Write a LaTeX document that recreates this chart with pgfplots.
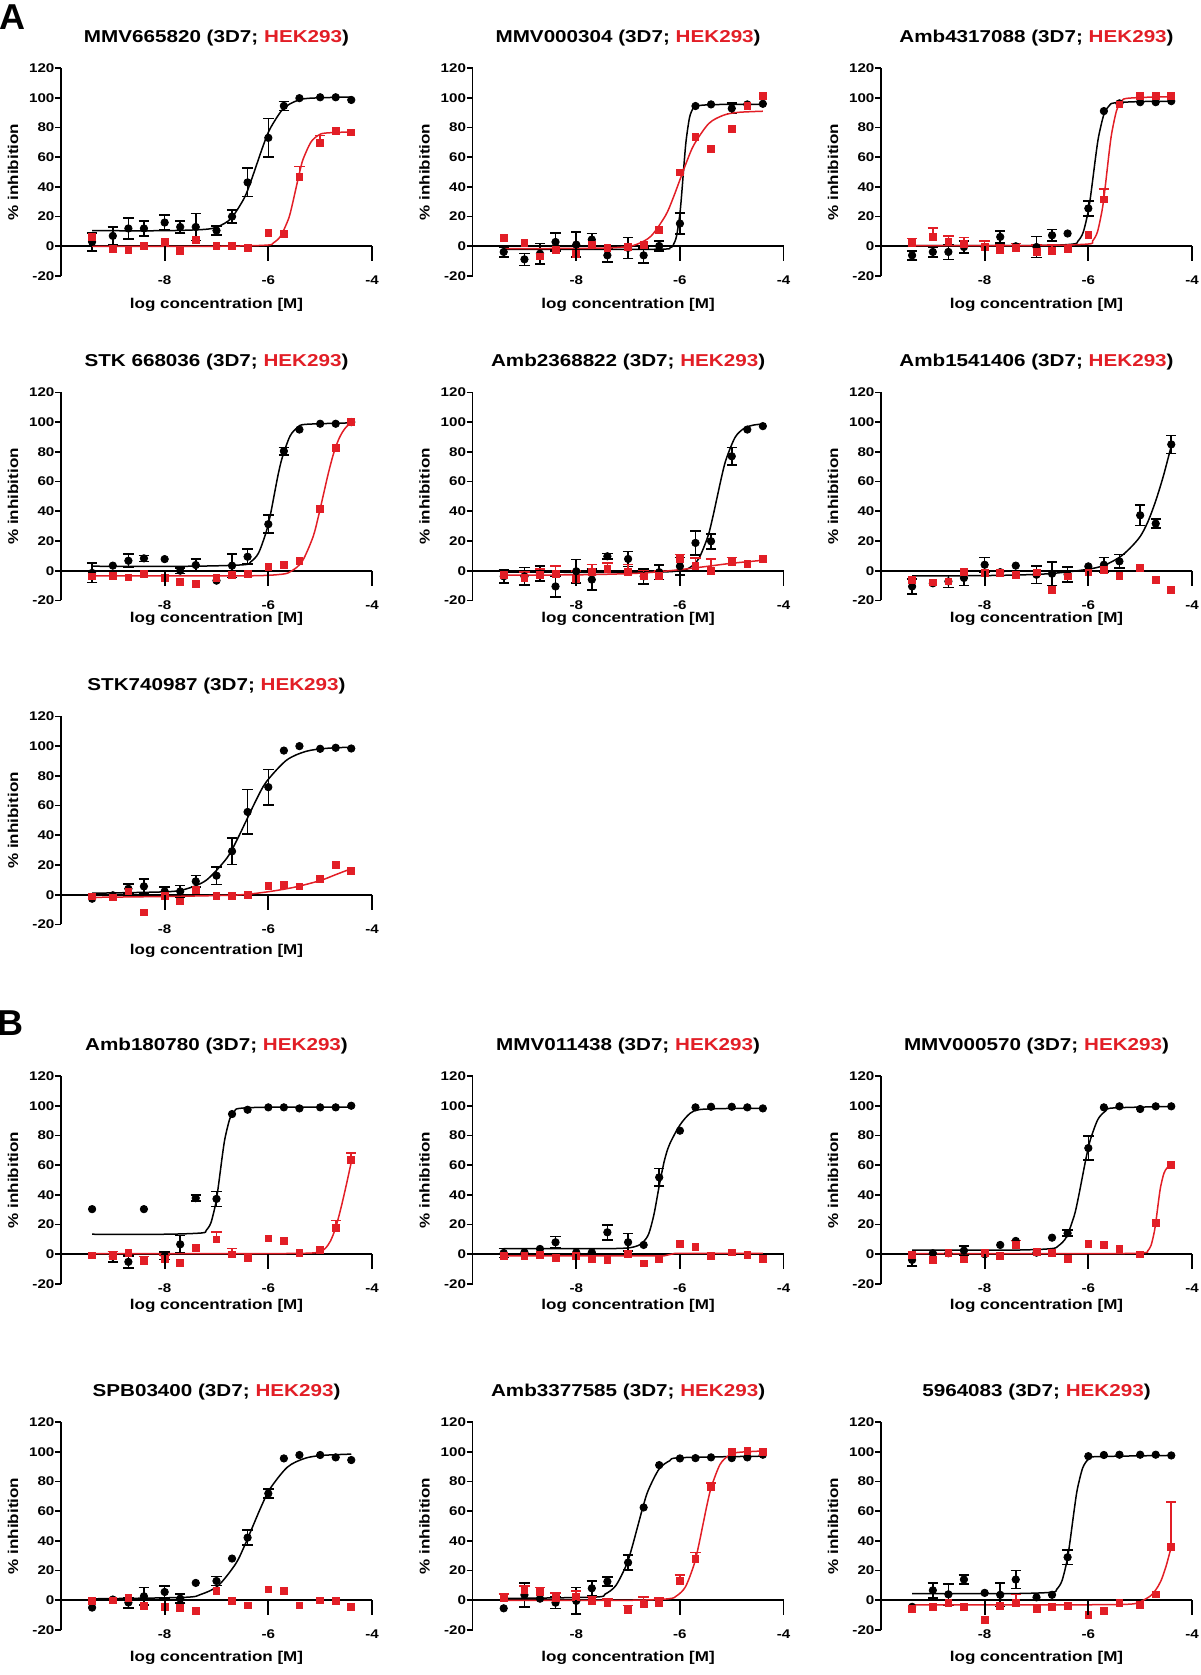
\documentclass[border=0pt]{standalone}
\usepackage{fontspec}
\setmainfont{Liberation Sans}[FakeStretch=1.2]
\newfontfamily\letterfont{Liberation Sans}
\usepackage{pgfplots}
\pgfplotsset{compat=1.18}
\definecolor{hek}{RGB}{226,30,38}

\pgfplotsset{
  dr/.style={
    width=155.5pt, height=104pt, scale only axis, anchor=north west,
    xmin=-10, xmax=-4, ymin=-20, ymax=120,
    axis y line=left, axis x line=middle,
    axis line style={-, line width=0.85pt},
    xtick={-8,-6,-4}, ytick={-20,0,20,40,60,80,100,120},
    tick align=outside, major tick length=3pt,
    tick style={line width=0.85pt, black},
    hide obscured x ticks=false, hide obscured y ticks=false,
    ticklabel style={font=\fontsize{6.3}{7}\selectfont\bfseries},
    /pgf/number format/assume math mode=true,
    xticklabel style={anchor=center, yshift=-14pt},
    yticklabel style={xshift=3.2pt},
    label style={font=\fontsize{7.1}{8.5}\selectfont\bfseries},
    ylabel={\% inhibition},
    ylabel style={at={(axis description cs:-0.1543,0.5)}, anchor=center},
    xlabel={log concentration [M]},
    every axis title shift=0pt,
    title style={at={(0.5,1.124)}, anchor=base, font=\fontsize{8.6}{10}\selectfont\bfseries},
    clip=false,
    after end axis/.code={
      \draw[line width=0.85pt] (axis cs:-8,0) -- (axis cs:-8,-10)
        (axis cs:-6,0) -- (axis cs:-6,-10) (axis cs:-4,0) -- (axis cs:-4,-10);
    },
  },
  xlab/.style={xlabel style={at={(axis description cs:0.5,#1)}, anchor=base}},
  bc/.style={black, line width=0.75pt, smooth, no markers},
  rc/.style={hek, line width=0.75pt, smooth, no markers},
  bm/.style={black, only marks, mark=*, mark size=1.85pt},
  rm/.style={hek, only marks, mark=square*, mark size=1.7pt},
  be/.style={bm, error bars/y dir=both, error bars/y explicit,
    error bars/error bar style={line width=0.8pt, black},
    error bars/error mark options={rotate=90, line width=0.8pt, mark size=2.6pt, black}},
  re/.style={rm, error bars/y dir=plus, error bars/y explicit,
    error bars/error bar style={line width=0.8pt, hek},
    error bars/error mark options={rotate=90, line width=0.8pt, mark size=2.6pt, hek}},
}

\begin{document}
\begin{tikzpicture}
\useasboundingbox (0,0) rectangle (600pt,-837.5pt);
\node[font=\letterfont\fontsize{18}{20}\selectfont\bfseries] at (6.2pt,-8.5pt) {A};
\node[font=\letterfont\fontsize{18}{20}\selectfont\bfseries] at (5.2pt,-511.5pt) {B};

% ---------------- A, row 1
\begin{axis}[dr, at={(30.5pt,-34pt)}, xlab=-0.157, title={MMV665820 (3D7; \textcolor{hek}{HEK293})}]
\addplot[bc] coordinates {(-9.4,10.5) (-8,10.5) (-7.22,11.4) (-6.97,13.3) (-6.72,18.7) (-6.47,32.1) (-6.345,42.9) (-6.22,55.5) (-6.095,68.1) (-5.97,78.9) (-5.72,92.3) (-5.47,97.7) (-5.22,99.6) (-4.4,100.5)};
\addplot[be] coordinates {(-9.4,3) +- (0,6) (-9.0,7) +- (0,6) (-8.7,12) +- (0,7) (-8.4,12) +- (0,5) (-8.0,16) +- (0,5) (-7.7,13) +- (0,4) (-7.4,13) +- (0,9) (-7.0,10.6) +- (0,3) (-6.7,20) +- (0,4.5) (-6.4,43) +- (0,9.5) (-6.0,73) +- (0,13) (-5.7,94.5) +- (0,3)};
\addplot[bm] coordinates {(-5.4,99.7) (-5.0,100.3) (-4.7,100.3) (-4.4,98.5)};
\addplot[rc] coordinates {(-9.4,0) (-7,0) (-6.04,0.76) (-5.90,2.36) (-5.76,7.0) (-5.61,18.5) (-5.54,27.7) (-5.47,38.5) (-5.40,49.3) (-5.33,58.5) (-5.18,70.0) (-5.04,74.6) (-4.90,76.2) (-4.4,77)};
\addplot[re] coordinates {(-5.4,46.7) +- (0,7) (-5.0,69.7) +- (0,5)};
\addplot[rm] coordinates {(-9.4,6.5) (-9.0,-1.8) (-8.7,-2.5) (-8.4,0) (-8.0,2.9) (-7.7,-2.9) (-7.4,4.3) (-7.0,0) (-6.7,0) (-6.4,-1.1) (-6.0,9) (-5.7,8.3) (-4.7,77.8) (-4.4,76.7)};
\end{axis}

\begin{axis}[dr, at={(236.3pt,-34pt)}, xlab=-0.157, title={MMV000304 (3D7; \textcolor{hek}{HEK293})}]
\addplot[bc] coordinates {(-9.4,-2) (-6.5,-2) (-6.19,-1.03) (-6.1275,1.0) (-6.065,6.86) (-6.0025,21.4) (-5.971,33.1) (-5.94,46.75) (-5.909,60.4) (-5.8775,72.1) (-5.815,86.6) (-5.7525,92.5) (-5.69,94.5) (-5.3,95.4) (-4.4,95.5)};
\addplot[be] coordinates {(-9.4,-3.8) +- (0,3.5) (-9.0,-8.8) +- (0,4) (-8.7,-5) +- (0,7) (-8.4,2.9) +- (0,6) (-8.0,1.1) +- (0,8.5) (-7.7,4.5) +- (0,4) (-7.4,-6.1) +- (0,4.5) (-7.0,-1.1) +- (0,7) (-6.7,-6.1) +- (0,5) (-6.4,0.2) +- (0,3.5) (-6.0,15.3) +- (0,7) (-5.0,92.8) +- (0,3.5)};
\addplot[bm] coordinates {(-5.7,94.4) (-5.4,95.5) (-4.7,95.5) (-4.4,95.9)};
\addplot[rc] coordinates {(-9.4,-1.5) (-7.8,-1.4) (-7.11,-0.58) (-6.83,1.34) (-6.556,6.91) (-6.278,20.7) (-6.139,31.8) (-6.0,44.75) (-5.861,57.7) (-5.722,68.8) (-5.444,82.6) (-5.167,88.1) (-4.889,90.1) (-4.4,90.9)};
\addplot[rm] coordinates {(-9.4,5.6) (-9.0,2.3) (-8.7,-6.8) (-8.4,-2.7) (-8.0,-5) (-7.7,1.1) (-7.4,-1.1) (-7.0,-0.5) (-6.7,1.1) (-6.4,10.8) (-6.0,49.7) (-5.7,73.6) (-5.4,65.7) (-5.0,79.2) (-4.7,94.4) (-4.4,101.1)};
\end{axis}

\begin{axis}[dr, at={(440.5pt,-34pt)}, xlab=-0.157, title={Amb4317088 (3D7; \textcolor{hek}{HEK293})}]
\addplot[bc] coordinates {(-9.4,0.5) (-7,0.5) (-6.3,1.46) (-6.2,3.48) (-6.1,9.32) (-6.0,23.8) (-5.95,35.4) (-5.9,49) (-5.85,62.6) (-5.8,74.2) (-5.7,88.7) (-5.6,94.5) (-5.5,96.5) (-5.0,97.4) (-4.4,97.5)};
\addplot[be] coordinates {(-9.4,-6.1) +- (0,3) (-9.0,-3.8) +- (0,3.5) (-8.7,-3.8) +- (0,5) (-8.4,-0.5) +- (0,4) (-7.7,6.3) +- (0,4) (-7.0,-0.5) +- (0,7) (-6.7,7.4) +- (0,4) (-6.0,25.5) +- (0,5)};
\addplot[bm] coordinates {(-8.0,-0.5) (-7.4,0) (-6.4,8.6) (-5.7,91) (-5.4,96.2) (-5.0,97) (-4.7,97) (-4.4,97.7)};
\addplot[rc] coordinates {(-9.4,0.5) (-7,0.5) (-6.01,1.5) (-5.918,3.6) (-5.825,9.6) (-5.733,24.5) (-5.686,36.5) (-5.64,50.5) (-5.594,64.5) (-5.547,76.5) (-5.455,91.4) (-5.362,97.4) (-5.27,99.5) (-4.8,100.4) (-4.4,100.5)};
\addplot[re] coordinates {(-9.4,2.3) +- (0,3) (-9.0,6.3) +- (0,6) (-8.7,2.9) +- (0,4) (-8.4,1.8) +- (0,4) (-8.0,-0.5) +- (0,4) (-7.7,-2.3) +- (0,3) (-7.4,-1.1) +- (0,3) (-7.0,-3.8) +- (0,5) (-6.7,-3.2) +- (0,4) (-5.7,31.6) +- (0,7)};
\addplot[rm] coordinates {(-6.4,-1.6) (-6.0,7.4) (-5.4,95.5) (-5.0,101) (-4.7,101) (-4.4,101)};
\end{axis}

% ---------------- A, row 2
\begin{axis}[dr, at={(30.5pt,-196.2pt)}, xlab=-0.108, title={STK 668036 (3D7; \textcolor{hek}{HEK293})}]
\addplot[bc] coordinates {(-9.4,3) (-7.5,3) (-6.49,3.96) (-6.34,5.96) (-6.19,11.8) (-6.04,26.2) (-5.96,37.7) (-5.885,51.25) (-5.81,64.8) (-5.73,76.3) (-5.58,90.7) (-5.43,96.5) (-5.28,98.5) (-4.4,99.5)};
\addplot[be] coordinates {(-9.4,-1.5) +- (0,6.5) (-8.7,6.7) +- (0,4.5) (-8.4,8.3) +- (0,2) (-7.7,0) +- (0,2) (-7.4,3.8) +- (0,4) (-6.7,3.4) +- (0,8) (-6.4,9.4) +- (0,5) (-6.0,31.3) +- (0,6) (-5.7,80.5) +- (0,2.5)};
\addplot[bm] coordinates {(-9.0,3.4) (-8.0,7.8) (-7.0,-6.7) (-5.4,95) (-5.0,98.9) (-4.7,98.9) (-4.4,100)};
\addplot[rc] coordinates {(-9.4,-3.5) (-6.5,-3.5) (-5.75,-2.43) (-5.55,-0.17) (-5.345,6.36) (-5.14,22.5) (-5.04,35.6) (-4.94,50.75) (-4.84,65.9) (-4.74,79.0) (-4.64,88.6) (-4.535,95.1) (-4.4,100.1)};
\addplot[rm] coordinates {(-9.4,-3.8) (-9.0,-3.4) (-8.7,-4.5) (-8.4,-2.2) (-8.0,-4.9) (-7.7,-7.8) (-7.4,-8.9) (-7.0,-5) (-6.7,-2.9) (-6.4,-2.2) (-6.0,2.7) (-5.7,3.8) (-5.4,6.7) (-5.0,41.4) (-4.7,82.8) (-4.4,100)};
\end{axis}

\begin{axis}[dr, at={(236.3pt,-196.2pt)}, xlab=-0.108, title={Amb2368822 (3D7; \textcolor{hek}{HEK293})}]
\addplot[bc] coordinates {(-9.4,-1) (-6.6,-1) (-5.99,0) (-5.81,2.07) (-5.637,8.09) (-5.461,23) (-5.373,35) (-5.285,49) (-5.197,63) (-5.109,75) (-4.933,89.9) (-4.757,95.9) (-4.581,98) (-4.4,98.7)};
\addplot[be] coordinates {(-9.4,-3.8) +- (0,4.5) (-9.0,-3.8) +- (0,6) (-8.7,-2) +- (0,5) (-8.4,-10.6) +- (0,7) (-8.0,-0.4) +- (0,8) (-7.7,-6) +- (0,7) (-7.4,9.7) +- (0,2) (-7.0,7.9) +- (0,5) (-6.7,-3.8) +- (0,5) (-6.4,-1) +- (0,5) (-6.0,3) +- (0,6) (-5.7,18.7) +- (0,8) (-5.4,19.8) +- (0,5) (-5.0,77) +- (0,6)};
\addplot[bm] coordinates {(-4.7,95) (-4.4,97.3)};
\addplot[rc] coordinates {(-9.4,-3) (-8,-2.8) (-7,-2) (-6.5,-1) (-6,0.7) (-5.5,2.8) (-5,5) (-4.4,7)};
\addplot[re] coordinates {(-9.0,-5) +- (0,4) (-8.7,-2.7) +- (0,4) (-8.4,-2) +- (0,5) (-8.0,-5.4) +- (0,5) (-7.7,-0.9) +- (0,5) (-7.4,1.3) +- (0,4) (-7.0,-0.9) +- (0,5) (-6.7,-3.8) +- (0,4) (-6.4,-3.4) +- (0,3) (-6.0,7.9) +- (0,3) (-5.7,3.4) +- (0,5) (-5.4,0) +- (0,8) (-5.0,5.8) +- (0,3)};
\addplot[rm] coordinates {(-9.4,-2.7) (-4.7,4.5) (-4.4,7.9)};
\end{axis}

\begin{axis}[dr, at={(440.5pt,-196.2pt)}, xlab=-0.108, title={Amb1541406 (3D7; \textcolor{hek}{HEK293})}]
\addplot[bc] coordinates {(-9.4,-3.5) (-8,-3.3) (-7,-2.5) (-6.5,-1.2) (-6,1) (-5.7,3.5) (-5.4,9) (-5.2,15) (-5,23) (-4.85,33) (-4.7,47) (-4.55,64) (-4.4,84)};
\addplot[be] coordinates {(-9.4,-10.6) +- (0,5) (-8.7,-7.2) +- (0,4) (-8.4,-4.9) +- (0,5) (-8.0,4) +- (0,5) (-7.0,-2.7) +- (0,6) (-6.7,-2) +- (0,8) (-6.4,-2.5) +- (0,5) (-5.7,4) +- (0,5) (-5.4,6.3) +- (0,4.5) (-5.0,37.3) +- (0,7) (-4.7,31.7) +- (0,3) (-4.4,85) +- (0,6)};
\addplot[bm] coordinates {(-9.0,-8.5) (-7.7,-1) (-7.4,3.4) (-6.0,2.9)};
\addplot[rm] coordinates {(-9.4,-6) (-9.0,-7.9) (-8.7,-7.2) (-8.4,-0.7) (-8.0,-1.6) (-7.7,-1.6) (-7.4,-3.1) (-7.0,-1.1) (-6.7,-12.8) (-6.4,-3.8) (-6.0,-1.1) (-5.7,0.7) (-5.4,-3.4) (-5.0,1.8) (-4.7,-6) (-4.4,-12.8)};
\end{axis}

% ---------------- A, row 3
\begin{axis}[dr, at={(30.5pt,-358.2pt)}, xlab=-0.145, title={STK740987 (3D7; \textcolor{hek}{HEK293})}]
\addplot[bc] coordinates {(-9.4,1) (-7.96,1.98) (-7.57,4.02) (-7.19,9.95) (-6.80,24.6) (-6.61,36.5) (-6.42,50.25) (-6.23,64.0) (-6.04,75.9) (-5.65,90.5) (-5.27,96.5) (-4.88,98.5) (-4.4,99.3)};
\addplot[be] coordinates {(-8.7,4) +- (0,3) (-8.4,5.6) +- (0,5) (-8.0,2.2) +- (0,3) (-7.7,2.2) +- (0,4) (-7.4,9) +- (0,4) (-7.0,12.8) +- (0,6) (-6.7,29.2) +- (0,9) (-6.4,55.7) +- (0,15) (-6.0,72.4) +- (0,12)};
\addplot[bm] coordinates {(-9.4,-2.7) (-9.0,-0.4) (-5.7,97) (-5.4,100) (-5.0,98.2) (-4.7,98.9) (-4.4,98.4)};
\addplot[rc] coordinates {(-9.4,-1.8) (-8,-1.2) (-7,-0.6) (-6.5,0) (-6,2) (-5.5,5) (-5,9.5) (-4.7,13.5) (-4.4,17.5)};
\addplot[rm] coordinates {(-9.4,-1.1) (-9.0,-1.8) (-8.7,2.2) (-8.4,-11.9) (-8.0,-0.7) (-7.7,-4.5) (-7.4,3.4) (-7.0,-0.7) (-6.7,-0.7) (-6.4,0) (-6.0,6.1) (-5.7,6.5) (-5.4,5.6) (-5.0,10.6) (-4.7,20.2) (-4.4,16.2)};
\end{axis}

% ---------------- B, row 4
\begin{axis}[dr, at={(30.5pt,-538pt)}, xlab=-0.121, title={Amb180780 (3D7; \textcolor{hek}{HEK293})}]
\addplot[bc] coordinates {(-9.4,13.5) (-8,13.5) (-7.289,14.35) (-7.198,16.1) (-7.107,21.3) (-7.016,34.0) (-6.97,44.3) (-6.925,56.25) (-6.88,68.2) (-6.834,78.5) (-6.743,91.2) (-6.652,96.3) (-6.561,98.2) (-6.0,99) (-4.4,99)};
\addplot[be] coordinates {(-9.0,-1.5) +- (0,3.5) (-8.7,-5.1) +- (0,4) (-8.0,-1.1) +- (0,2.5) (-7.7,6.7) +- (0,6) (-7.4,37.8) +- (0,2) (-7.0,37.3) +- (0,5)};
\addplot[bm] coordinates {(-9.4,30.4) (-8.4,30.4) (-6.7,94.4) (-6.4,97.3) (-6.0,98.9) (-5.7,98.9) (-5.4,98.2) (-5.0,98.9) (-4.7,98.9) (-4.4,100)};
\addplot[rc] coordinates {(-9.4,0.5) (-6,0.5) (-5.2,0.8) (-5.0,1.8) (-4.9,4) (-4.8,9) (-4.7,18) (-4.6,31) (-4.5,46) (-4.4,62)};
\addplot[re] coordinates {(-9.0,-1.1) +- (0,3) (-8.4,-4.4) +- (0,3) (-8.0,-3.3) +- (0,3) (-7.0,10) +- (0,5) (-6.7,0) +- (0,4) (-4.7,17.8) +- (0,5) (-4.4,63.3) +- (0,5)};
\addplot[rm] coordinates {(-9.4,-0.7) (-8.7,1.1) (-7.7,-5.6) (-7.4,4.4) (-6.4,-2.2) (-6.0,10.7) (-5.7,8.9) (-5.4,1.1) (-5.0,2.7)};
\end{axis}

\begin{axis}[dr, at={(236.3pt,-538pt)}, xlab=-0.121, title={MMV011438 (3D7; \textcolor{hek}{HEK293})}]
\addplot[bc] coordinates {(-9.4,3.8) (-7.5,3.8) (-7.0,4.3) (-6.8,6) (-6.7,8.5) (-6.6,14) (-6.5,27) (-6.4,46) (-6.3,63) (-6.2,74) (-6.0,87) (-5.8,95) (-5.6,97.5) (-5.0,98.2) (-4.4,98.2)};
\addplot[be] coordinates {(-9.4,0.9) +- (0,3) (-8.4,8.1) +- (0,4) (-7.4,14.8) +- (0,5) (-7.0,8.1) +- (0,6) (-6.4,51.8) +- (0,6)};
\addplot[bm] coordinates {(-9.0,1.3) (-8.7,3.6) (-8.0,1.3) (-7.7,1.3) (-6.7,6.3) (-6.0,83.2) (-5.7,98.9) (-5.4,99.3) (-5.0,99.3) (-4.7,98.9) (-4.4,98.2)};
\addplot[hek, line width=0.75pt] coordinates {(-9.4,-1) (-6.3,-1) (-6.1,0.6) (-4.4,0.6)};
\addplot[rm] coordinates {(-9.4,-1.3) (-9.0,-1.3) (-8.7,-0.4) (-8.4,-2.5) (-8.0,-0.9) (-7.7,-3.1) (-7.4,-3.6) (-7.0,0.2) (-6.7,-6.1) (-6.4,-3.1) (-6.0,7) (-5.7,4.9) (-5.4,-1.3) (-5.0,1.3) (-4.7,-0.4) (-4.4,-3.1)};
\end{axis}

\begin{axis}[dr, at={(440.5pt,-538pt)}, xlab=-0.121, title={MMV000570 (3D7; \textcolor{hek}{HEK293})}]
\addplot[bc] coordinates {(-9.4,2.8) (-7.5,2.8) (-6.726,3.76) (-6.575,5.77) (-6.423,11.6) (-6.272,26.0) (-6.196,37.6) (-6.12,51.15) (-6.044,64.7) (-5.968,76.3) (-5.817,90.7) (-5.665,96.5) (-5.514,98.5) (-4.4,99.5)};
\addplot[be] coordinates {(-9.4,-3.8) +- (0,4) (-8.4,2.5) +- (0,3) (-6.4,14.2) +- (0,2) (-6.0,71.5) +- (0,8)};
\addplot[bm] coordinates {(-9.0,0.7) (-8.7,0.7) (-8.0,0) (-7.7,6.3) (-7.4,9) (-7.0,1.1) (-6.7,11.2) (-5.7,98.9) (-5.4,99.6) (-5.0,97.8) (-4.7,99.6) (-4.4,99.6)};
\addplot[rc] coordinates {(-9.4,0.5) (-5.5,0.5) (-4.916,1.09) (-4.854,2.33) (-4.791,5.91) (-4.729,14.8) (-4.697,21.9) (-4.666,30.25) (-4.635,38.6) (-4.604,45.7) (-4.541,54.6) (-4.479,58.2) (-4.416,59.4) (-4.4,59.6)};
\addplot[re] coordinates {(-7.4,6.3) +- (0,3)};
\addplot[rm] coordinates {(-9.4,-0.4) (-9.0,-3.8) (-8.7,0.7) (-8.4,-3.4) (-8.0,0.7) (-7.7,-1.1) (-7.0,1.8) (-6.7,1.1) (-6.4,-2.9) (-6.0,7.2) (-5.7,6.3) (-5.4,3.4) (-5.0,0) (-4.7,21.3) (-4.4,60.2)};
\end{axis}

% ---------------- B, row 5
\begin{axis}[dr, at={(30.5pt,-711pt)}, xlab=-0.151, title={SPB03400 (3D7; \textcolor{hek}{HEK293})}]
\addplot[bc] coordinates {(-9.4,1) (-7.633,1.97) (-7.3,4.0) (-6.967,9.86) (-6.633,24.4) (-6.467,36.1) (-6.3,49.75) (-6.133,63.4) (-5.967,75.1) (-5.633,89.6) (-5.3,95.5) (-4.967,97.5) (-4.4,98.4)};
\addplot[be] coordinates {(-8.7,-1.5) +- (0,3.5) (-8.4,2.7) +- (0,6) (-8.0,5.6) +- (0,4) (-7.7,1.1) +- (0,3) (-7.0,13) +- (0,3) (-6.4,42.2) +- (0,5) (-6.0,71.9) +- (0,3)};
\addplot[bm] coordinates {(-9.4,-4.9) (-9.0,0.5) (-7.4,11.7) (-6.7,28.1) (-5.7,95.5) (-5.4,97.8) (-5.0,97.8) (-4.7,96.2) (-4.4,94.4)};
\addplot[rm] coordinates {(-9.4,-0.4) (-9.0,0) (-8.7,1.6) (-8.4,-3.8) (-8.0,-4.5) (-7.7,-5.2) (-7.4,-7.2) (-7.0,6.1) (-6.7,-0.4) (-6.4,-3.4) (-6.0,7.4) (-5.7,6.3) (-5.4,-3.4) (-5.0,0) (-4.7,-0.4) (-4.4,-4.5)};
\end{axis}

\begin{axis}[dr, at={(236.3pt,-711pt)}, xlab=-0.151, title={Amb3377585 (3D7; \textcolor{hek}{HEK293})}]
\addplot[bc] coordinates {(-9.4,1.2) (-7.653,2.15) (-7.445,4.14) (-7.237,9.91) (-7.028,24.2) (-6.924,35.7) (-6.82,49.1) (-6.716,62.5) (-6.612,74.0) (-6.403,88.3) (-6.195,94.0) (-5.987,96.0) (-4.4,97)};
\addplot[be] coordinates {(-9.0,3.6) +- (0,8) (-8.4,-1.6) +- (0,4) (-8.0,-0.4) +- (0,9) (-7.7,8.1) +- (0,5) (-7.4,12.6) +- (0,3) (-7.0,25.4) +- (0,5)};
\addplot[bm] coordinates {(-9.4,-5.4) (-8.7,1.1) (-6.7,62.5) (-6.4,91) (-6.0,95.5) (-5.7,95.7) (-5.4,96.2) (-5.0,95.7) (-4.7,96.2) (-4.4,98)};
\addplot[rc] coordinates {(-9.4,0) (-7,0) (-6.227,1.0) (-6.06,3.1) (-5.893,9.1) (-5.727,24.1) (-5.643,36.2) (-5.56,50.25) (-5.477,64.3) (-5.393,76.4) (-5.227,91.4) (-5.06,97.4) (-4.893,99.5) (-4.4,100.5)};
\addplot[re] coordinates {(-9.4,1.3) +- (0,3) (-9.0,6.7) +- (0,3) (-8.7,5.6) +- (0,3) (-8.4,1.8) +- (0,3) (-8.0,2.2) +- (0,4) (-7.7,-0.4) +- (0,3) (-7.4,-2) +- (0,3) (-7.0,-6.5) +- (0,3) (-6.7,-2.7) +- (0,5) (-6.4,-1.6) +- (0,3) (-6.0,13) +- (0,4) (-5.7,28.1) +- (0,4) (-5.4,76) +- (0,3)};
\addplot[rm] coordinates {(-5.0,100) (-4.7,100.7) (-4.4,100)};
\end{axis}

\begin{axis}[dr, at={(440.5pt,-711pt)}, xlab=-0.151, title={5964083 (3D7; \textcolor{hek}{HEK293})}]
\addplot[bc] coordinates {(-9.4,4.5) (-7.5,4.5) (-6.71,5.4) (-6.61,7.4) (-6.51,13) (-6.41,26.8) (-6.36,38) (-6.31,51) (-6.26,64) (-6.21,75.2) (-6.11,89) (-6.01,94.6) (-5.91,96.6) (-4.4,97.5)};
\addplot[be] coordinates {(-9.0,6.7) +- (0,5) (-8.7,4) +- (0,7) (-8.4,14) +- (0,3) (-7.7,3.7) +- (0,8) (-7.4,14) +- (0,6) (-6.4,29) +- (0,5)};
\addplot[bm] coordinates {(-9.4,-4.4) (-8.0,5) (-7.0,2) (-6.7,3.7) (-6.0,97) (-5.7,97.8) (-5.4,98) (-5.0,98) (-4.7,98) (-4.4,97.5)};
\addplot[rc] coordinates {(-9.4,-3) (-6,-3) (-5.2,-2.6) (-5.0,-1) (-4.8,3) (-4.7,7) (-4.6,13) (-4.5,23) (-4.4,36)};
\addplot[re] coordinates {(-7.4,-2) +- (0,6) (-4.4,36) +- (0,30)};
\addplot[rm] coordinates {(-9.4,-6) (-9.0,-4.4) (-8.7,-1.5) (-8.4,-4.4) (-8.0,-13) (-7.7,-4) (-7.0,-6) (-6.7,-4.4) (-6.4,-4) (-6.0,-10) (-5.7,-7) (-5.4,-2) (-5.0,-3) (-4.7,4)};
\end{axis}
\end{tikzpicture}
\end{document}
